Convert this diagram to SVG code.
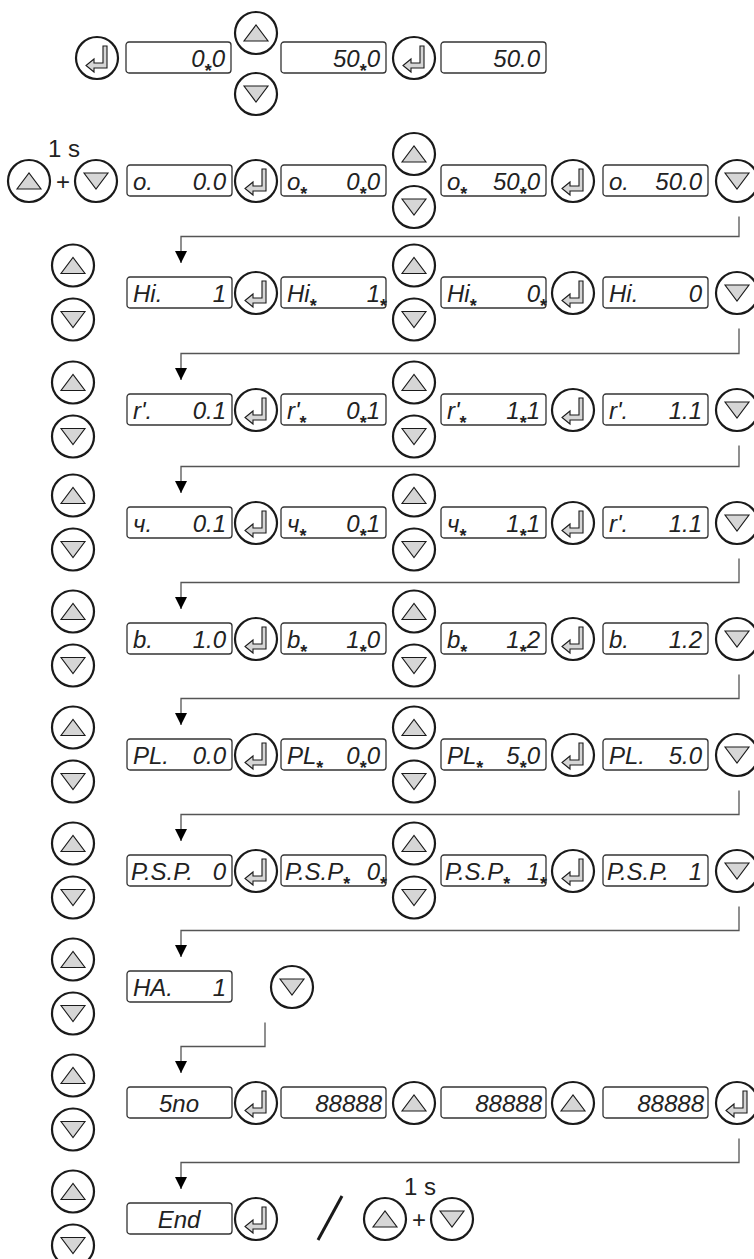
<svg xmlns="http://www.w3.org/2000/svg" xmlns:xlink="http://www.w3.org/1999/xlink" width="754" height="1259" viewBox="0 0 754 1259">
<style>
.btn{fill:#fff;stroke:#1a1a1a;stroke-width:2.2}
.tri{fill:#d6d6d6;stroke:#1a1a1a;stroke-width:1.1}
.box{fill:#fff;stroke:#333;stroke-width:1.3}
.seg{font-family:"Liberation Sans",Arial,sans-serif;font-style:italic;font-size:24px;fill:#222}
.val{text-anchor:end}
.a{font-size:18px;font-style:normal;font-weight:bold}
.lbl{font-family:"Liberation Sans",Arial,sans-serif;font-size:24px;fill:#222}
.conn{fill:none;stroke:#555;stroke-width:1.3;marker-end:url(#arr)}
</style>
<defs>
<marker id="arr" markerUnits="userSpaceOnUse" markerWidth="12" markerHeight="12" refX="12" refY="6" orient="auto"><path d="M0,0 L12,6 L0,12 Z" fill="#000"/></marker>
<g id="up"><circle r="21" class="btn"/><path d="M-12,8 L12,8 L0,-8 Z" class="tri"/></g>
<g id="dn"><circle r="21" class="btn"/><path d="M-12,-8 L12,-8 L0,8 Z" class="tri"/></g>
<g id="ent"><circle r="21" class="btn"/><path d="M6,-12 L10,-12 L10,10 L-3,10 L-3,14 L-11,7.5 L-3,1 L-3,5 L6,5 Z" class="tri"/></g>
<rect id="disp" width="105" height="31" rx="3" class="box"/>
</defs>

<g id="connectors">
<path class="conn" d="M739,216.5 V236.5 H181 V263"/>
<path class="conn" d="M739,328.5 V353.5 H181 V380"/>
<path class="conn" d="M739,445.5 V466.5 H181 V493"/>
<path class="conn" d="M739,558.5 V582.5 H181 V609"/>
<path class="conn" d="M739,674.5 V698.5 H181 V725"/>
<path class="conn" d="M739,790.5 V814.5 H181 V841"/>
<path class="conn" d="M739,906.5 V930.5 H181 V957"/>
<path class="conn" d="M265,1022.5 V1046.5 H181 V1073"/>
<path class="conn" d="M739,1138.5 V1162.5 H181 V1189"/>
</g>

<!-- Row 0 -->
<g id="r0-ent1"><use href="#ent" x="97" y="58"/></g>
<g id="r0-d1" transform="translate(126,42)"><use href="#disp"/><text class="seg val" x="99" y="25">0<tspan class="a" dy="10">*</tspan><tspan dy="-10">0</tspan></text></g>
<g id="r0-updn"><use href="#up" x="256" y="33"/><use href="#dn" x="256" y="94"/></g>
<g id="r0-d2" transform="translate(281,42)"><use href="#disp"/><text class="seg val" x="99" y="25">50<tspan class="a" dy="10">*</tspan><tspan dy="-10">0</tspan></text></g>
<g id="r0-ent2"><use href="#ent" x="414" y="58"/></g>
<g id="r0-d3" transform="translate(441,42)"><use href="#disp"/><text class="seg val" x="99" y="25">50.0</text></g>

<!-- Row 1 -->
<g id="r1-combo"><text class="lbl" x="48" y="157">1 s</text><use href="#up" x="29" y="181"/><text class="lbl" x="63" y="190" text-anchor="middle" font-size="30">+</text><use href="#dn" x="96" y="181"/></g>
<g id="r1-d1" transform="translate(127,165)"><use href="#disp"/><text class="seg" x="6" y="25">o.</text><text class="seg val" x="99" y="25">0.0</text></g>
<g id="r1-ent1"><use href="#ent" x="256" y="181"/></g>
<g id="r1-d2" transform="translate(281,165)"><use href="#disp"/><text class="seg" x="6" y="25">o<tspan class="a" dy="10">*</tspan></text><text class="seg val" x="99" y="25">0<tspan class="a" dy="10">*</tspan><tspan dy="-10">0</tspan></text></g>
<g id="r1-updn"><use href="#up" x="414" y="154"/><use href="#dn" x="414" y="207"/></g>
<g id="r1-d3" transform="translate(441,165)"><use href="#disp"/><text class="seg" x="6" y="25">o<tspan class="a" dy="10">*</tspan></text><text class="seg val" x="99" y="25">50<tspan class="a" dy="10">*</tspan><tspan dy="-10">0</tspan></text></g>
<g id="r1-ent2"><use href="#ent" x="573" y="181"/></g>
<g id="r1-d4" transform="translate(603,165)"><use href="#disp"/><text class="seg" x="6" y="25">o.</text><text class="seg val" x="99" y="25">50.0</text></g>
<g id="r1-dn"><use href="#dn" x="737" y="181"/></g>

<!-- Row 2 Hi yc=292.5 -->
<g id="r2-left"><use href="#up" x="73" y="265.5"/><use href="#dn" x="73" y="319.5"/></g>
<g id="r2-d1" transform="translate(127,277)"><use href="#disp"/><text class="seg" x="6" y="25">Hi.</text><text class="seg val" x="99" y="25">1</text></g>
<g id="r2-ent1"><use href="#ent" x="256" y="293"/></g>
<g id="r2-d2" transform="translate(281,277)"><use href="#disp"/><text class="seg" x="6" y="25">Hi<tspan class="a" dy="10">*</tspan></text><text class="seg val" x="106" y="25">1<tspan class="a" dy="10">*</tspan></text></g>
<g id="r2-updn"><use href="#up" x="414" y="265.5"/><use href="#dn" x="414" y="319.5"/></g>
<g id="r2-d3" transform="translate(441,277)"><use href="#disp"/><text class="seg" x="6" y="25">Hi<tspan class="a" dy="10">*</tspan></text><text class="seg val" x="106" y="25">0<tspan class="a" dy="10">*</tspan></text></g>
<g id="r2-ent2"><use href="#ent" x="573" y="293"/></g>
<g id="r2-d4" transform="translate(603,277)"><use href="#disp"/><text class="seg" x="6" y="25">Hi.</text><text class="seg val" x="99" y="25">0</text></g>
<g id="r2-dn"><use href="#dn" x="737" y="293"/></g>

<!-- Row 3 r yc=409.5 -->
<g id="r3-left"><use href="#up" x="73" y="382.5"/><use href="#dn" x="73" y="436.5"/></g>
<g id="r3-d1" transform="translate(127,394)"><use href="#disp"/><text class="seg" x="6" y="25">r'.</text><text class="seg val" x="99" y="25">0.1</text></g>
<g id="r3-ent1"><use href="#ent" x="256" y="410"/></g>
<g id="r3-d2" transform="translate(281,394)"><use href="#disp"/><text class="seg" x="6" y="25">r'<tspan class="a" dy="10">*</tspan></text><text class="seg val" x="99" y="25">0<tspan class="a" dy="10">*</tspan><tspan dy="-10">1</tspan></text></g>
<g id="r3-updn"><use href="#up" x="414" y="382.5"/><use href="#dn" x="414" y="436.5"/></g>
<g id="r3-d3" transform="translate(441,394)"><use href="#disp"/><text class="seg" x="6" y="25">r'<tspan class="a" dy="10">*</tspan></text><text class="seg val" x="99" y="25">1<tspan class="a" dy="10">*</tspan><tspan dy="-10">1</tspan></text></g>
<g id="r3-ent2"><use href="#ent" x="573" y="410"/></g>
<g id="r3-d4" transform="translate(603,394)"><use href="#disp"/><text class="seg" x="6" y="25">r'.</text><text class="seg val" x="99" y="25">1.1</text></g>
<g id="r3-dn"><use href="#dn" x="737" y="410"/></g>

<!-- Row 4 yc=522.5 -->
<g id="r4-left"><use href="#up" x="73" y="495.5"/><use href="#dn" x="73" y="549.5"/></g>
<g id="r4-d1" transform="translate(127,507)"><use href="#disp"/><text class="seg" x="6" y="25">ч.</text><text class="seg val" x="99" y="25">0.1</text></g>
<g id="r4-ent1"><use href="#ent" x="256" y="523"/></g>
<g id="r4-d2" transform="translate(281,507)"><use href="#disp"/><text class="seg" x="6" y="25">ч<tspan class="a" dy="10">*</tspan></text><text class="seg val" x="99" y="25">0<tspan class="a" dy="10">*</tspan><tspan dy="-10">1</tspan></text></g>
<g id="r4-updn"><use href="#up" x="414" y="495.5"/><use href="#dn" x="414" y="549.5"/></g>
<g id="r4-d3" transform="translate(441,507)"><use href="#disp"/><text class="seg" x="6" y="25">ч<tspan class="a" dy="10">*</tspan></text><text class="seg val" x="99" y="25">1<tspan class="a" dy="10">*</tspan><tspan dy="-10">1</tspan></text></g>
<g id="r4-ent2"><use href="#ent" x="573" y="523"/></g>
<g id="r4-d4" transform="translate(603,507)"><use href="#disp"/><text class="seg" x="6" y="25">r'.</text><text class="seg val" x="99" y="25">1.1</text></g>
<g id="r4-dn"><use href="#dn" x="737" y="523"/></g>

<!-- Row 5 b yc=638.5 -->
<g id="r5-left"><use href="#up" x="73" y="611.5"/><use href="#dn" x="73" y="665.5"/></g>
<g id="r5-d1" transform="translate(127,623)"><use href="#disp"/><text class="seg" x="6" y="25">b.</text><text class="seg val" x="99" y="25">1.0</text></g>
<g id="r5-ent1"><use href="#ent" x="256" y="639"/></g>
<g id="r5-d2" transform="translate(281,623)"><use href="#disp"/><text class="seg" x="6" y="25">b<tspan class="a" dy="10">*</tspan></text><text class="seg val" x="99" y="25">1<tspan class="a" dy="10">*</tspan><tspan dy="-10">0</tspan></text></g>
<g id="r5-updn"><use href="#up" x="414" y="611.5"/><use href="#dn" x="414" y="665.5"/></g>
<g id="r5-d3" transform="translate(441,623)"><use href="#disp"/><text class="seg" x="6" y="25">b<tspan class="a" dy="10">*</tspan></text><text class="seg val" x="99" y="25">1<tspan class="a" dy="10">*</tspan><tspan dy="-10">2</tspan></text></g>
<g id="r5-ent2"><use href="#ent" x="573" y="639"/></g>
<g id="r5-d4" transform="translate(603,623)"><use href="#disp"/><text class="seg" x="6" y="25">b.</text><text class="seg val" x="99" y="25">1.2</text></g>
<g id="r5-dn"><use href="#dn" x="737" y="639"/></g>

<!-- Row 6 PL yc=754.5 -->
<g id="r6-left"><use href="#up" x="73" y="727.5"/><use href="#dn" x="73" y="781.5"/></g>
<g id="r6-d1" transform="translate(127,739)"><use href="#disp"/><text class="seg" x="6" y="25">PL.</text><text class="seg val" x="99" y="25">0.0</text></g>
<g id="r6-ent1"><use href="#ent" x="256" y="755"/></g>
<g id="r6-d2" transform="translate(281,739)"><use href="#disp"/><text class="seg" x="6" y="25">PL<tspan class="a" dy="10">*</tspan></text><text class="seg val" x="99" y="25">0<tspan class="a" dy="10">*</tspan><tspan dy="-10">0</tspan></text></g>
<g id="r6-updn"><use href="#up" x="414" y="727.5"/><use href="#dn" x="414" y="781.5"/></g>
<g id="r6-d3" transform="translate(441,739)"><use href="#disp"/><text class="seg" x="6" y="25">PL<tspan class="a" dy="10">*</tspan></text><text class="seg val" x="99" y="25">5<tspan class="a" dy="10">*</tspan><tspan dy="-10">0</tspan></text></g>
<g id="r6-ent2"><use href="#ent" x="573" y="755"/></g>
<g id="r6-d4" transform="translate(603,739)"><use href="#disp"/><text class="seg" x="6" y="25">PL.</text><text class="seg val" x="99" y="25">5.0</text></g>
<g id="r6-dn"><use href="#dn" x="737" y="755"/></g>

<!-- Row 7 PSP yc=870.5 -->
<g id="r7-left"><use href="#up" x="73" y="843.5"/><use href="#dn" x="73" y="897.5"/></g>
<g id="r7-d1" transform="translate(127,855)"><use href="#disp"/><text class="seg" x="4" y="25">P.S.P.</text><text class="seg val" x="99" y="25">0</text></g>
<g id="r7-ent1"><use href="#ent" x="256" y="871"/></g>
<g id="r7-d2" transform="translate(281,855)"><use href="#disp"/><text class="seg" x="4" y="25">P.S.P<tspan class="a" dy="10">*</tspan></text><text class="seg val" x="106" y="25">0<tspan class="a" dy="10">*</tspan></text></g>
<g id="r7-updn"><use href="#up" x="414" y="843.5"/><use href="#dn" x="414" y="897.5"/></g>
<g id="r7-d3" transform="translate(441,855)"><use href="#disp"/><text class="seg" x="4" y="25">P.S.P<tspan class="a" dy="10">*</tspan></text><text class="seg val" x="106" y="25">1<tspan class="a" dy="10">*</tspan></text></g>
<g id="r7-ent2"><use href="#ent" x="573" y="871"/></g>
<g id="r7-d4" transform="translate(603,855)"><use href="#disp"/><text class="seg" x="4" y="25">P.S.P.</text><text class="seg val" x="99" y="25">1</text></g>
<g id="r7-dn"><use href="#dn" x="737" y="871"/></g>

<!-- Row 8 HA yc=986.5 -->
<g id="r8-left"><use href="#up" x="73" y="959.5"/><use href="#dn" x="73" y="1013.5"/></g>
<g id="r8-d1" transform="translate(127,971)"><use href="#disp"/><text class="seg" x="6" y="25">HA.</text><text class="seg val" x="99" y="25">1</text></g>
<g id="r8-dn"><use href="#dn" x="292" y="987"/></g>

<!-- Row 9 Sno yc=1102.5 -->
<g id="r9-left"><use href="#up" x="73" y="1075.5"/><use href="#dn" x="73" y="1129.5"/></g>
<g id="r9-d1" transform="translate(127,1087)"><use href="#disp"/><text class="seg" x="52" y="25" text-anchor="middle">5no</text></g>
<g id="r9-ent1"><use href="#ent" x="256" y="1103"/></g>
<g id="r9-d2" transform="translate(281,1087)"><use href="#disp"/><text class="seg val" x="101" y="25">88888</text></g>
<g id="r9-up1"><use href="#up" x="414" y="1103"/></g>
<g id="r9-d3" transform="translate(441,1087)"><use href="#disp"/><text class="seg val" x="101" y="25">88888</text></g>
<g id="r9-up2"><use href="#up" x="573" y="1103"/></g>
<g id="r9-d4" transform="translate(603,1087)"><use href="#disp"/><text class="seg val" x="101" y="25">88888</text></g>
<g id="r9-ent2"><use href="#ent" x="737" y="1103"/></g>

<!-- Row 10 End yc=1218.5 -->
<g id="r10-left"><use href="#up" x="73" y="1191.5"/><use href="#dn" x="73" y="1245.5"/></g>
<g id="r10-d1" transform="translate(127,1203)"><use href="#disp"/><text class="seg" x="52" y="25" text-anchor="middle">End</text></g>
<g id="r10-ent1"><use href="#ent" x="256" y="1219"/></g>
<g id="r10-slash"><line x1="318" y1="1240" x2="342" y2="1196" stroke="#1a1a1a" stroke-width="3"/></g>
<g id="r10-combo"><text class="lbl" x="404" y="1195">1 s</text><use href="#up" x="385" y="1219"/><text class="lbl" x="419" y="1228" text-anchor="middle" font-size="30">+</text><use href="#dn" x="452" y="1219"/></g>
</svg>
